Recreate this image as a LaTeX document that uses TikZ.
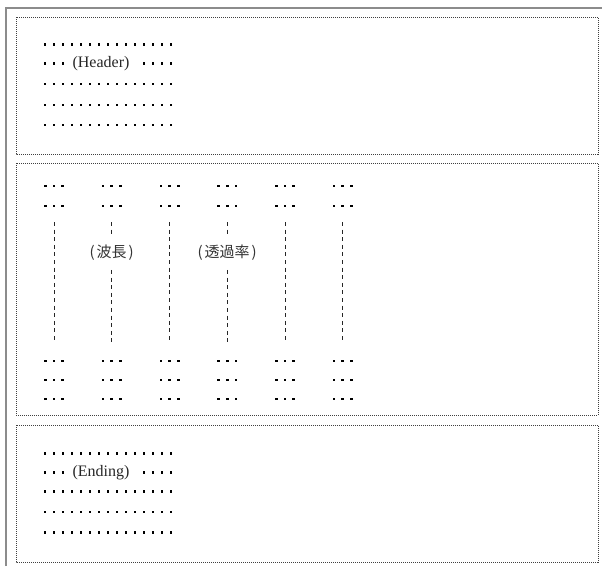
\documentclass[tikz,border=0pt]{standalone}
\usepackage{fontspec}
\newfontfamily\jpfont{Noto Sans CJK JP}
\newfontfamily\latinfont{Liberation Serif}
\begin{document}
\begin{tikzpicture}[x=1pt,y=-1pt,
  dotbox/.style={draw=black!75, line width=1pt, dash pattern=on 1pt off 1pt},
  frameline/.style={draw=black!45, line width=1.3pt},
  vdash/.style={draw=black!85, line width=1pt, dash pattern=on 4pt off 3.6pt},
  sq/.style={fill=black},
  lbl/.style={font={\jpfont\fontsize{15}{16}\selectfont}, text=black!80, inner xsep=0pt, inner ysep=9pt},
  txt/.style={font={\latinfont\fontsize{16}{17}\selectfont}, text=black!85, inner sep=0pt}]
\useasboundingbox (0,0) rectangle (602,566);
% outer frame
\draw[frameline] (6,566) -- (6,8) -- (602,8);
% three dotted boxes
\draw[dotbox] (16,17) rectangle (598,154);
\draw[dotbox] (16,163) rectangle (598,415);
\draw[dotbox] (16,425) rectangle (598,562);
% header block
\foreach \r in {44.5,84,105,125}
  \foreach \k in {0,...,14}
    \fill[sq] (45+9*\k-1.3,\r-1.3) rectangle ++(2.6,2.6);
\foreach \k in {0,1,2,11,12,13,14}
  \fill[sq] (45+9*\k-1.3,63.5-1.3) rectangle ++(2.6,2.6);
\node[txt] (header) at (101,63.5) {(Header)};
% ending block
\foreach \r in {453.3,491.7,512,532.3}
  \foreach \k in {0,...,14}
    \fill[sq] (45+9*\k-1.3,\r-1.3) rectangle ++(2.6,2.6);
\foreach \k in {0,1,2,11,12,13,14}
  \fill[sq] (45+9*\k-1.3,472.3-1.3) rectangle ++(2.6,2.6);
\node[txt] (ending) at (101,472.3) {(Ending)};
% data block
\foreach \c [count=\i] in {54,111.75,169.5,227.25,285,342.75}{
  \foreach \r in {186,206,361,380,399}
    \foreach \d in {-8.7,0,8.7}
      \fill[sq] (\c+\d-1.3,\r-1.3) rectangle ++(2.6,2.6);
  \coordinate (t\i) at (\c,222);
  \coordinate (b\i) at (\c,343);
}
\node[lbl] (wl) at (111.75,253) {(\hspace{2pt}波長\hspace{2pt})};
\node[lbl] (tr) at (227.25,253) {(\hspace{2pt}透過率\hspace{2pt})};
\draw[vdash] (t1) -- (b1);
\draw[vdash] (t2) -- (wl.north);
\draw[vdash] (wl.south) -- (b2);
\draw[vdash] (t3) -- (b3);
\draw[vdash] (t4) -- (tr.north);
\draw[vdash] (tr.south) -- (b4);
\draw[vdash] (t5) -- (b5);
\draw[vdash] (t6) -- (b6);
\end{tikzpicture}
\end{document}
